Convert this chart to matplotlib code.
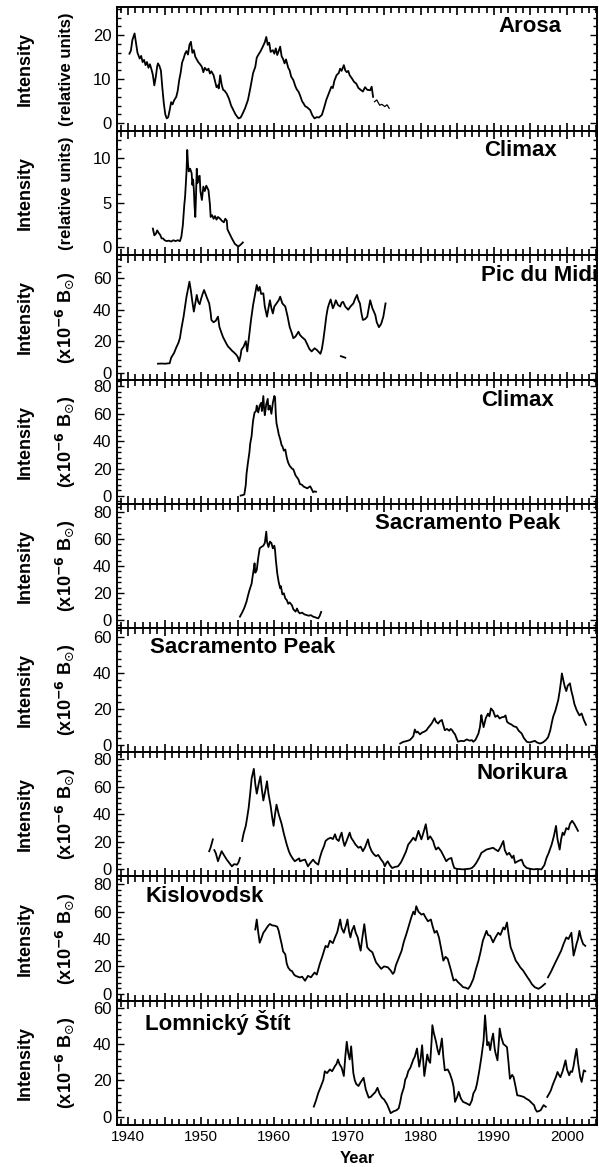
import numpy as np
import matplotlib.pyplot as plt
from matplotlib.ticker import MultipleLocator, AutoMinorLocator, FuncFormatter

plt.rcParams['font.family'] = ['Liberation Sans', 'DejaVu Sans']
plt.rcParams['mathtext.fontset'] = 'dejavusans'

# ---- data: (year, intensity) ----
arosa = [(1940.2, 15.8), (1940.4, 16.5), (1940.6, 18.9), (1940.9, 20.4), (1941.1, 18.2), (1941.3, 16.0),
         (1941.6, 14.7), (1941.8, 15.3), (1942.0, 13.9), (1942.2, 14.4), (1942.4, 13.2), (1942.6, 13.9),
         (1942.8, 12.6), (1943.0, 13.4), (1943.2, 12.3), (1943.4, 11.0), (1943.6, 8.6), (1943.8, 10.5),
         (1944.0, 13.0), (1944.1, 13.6), (1944.3, 13.0), (1944.5, 12.0), (1944.7, 8.0), (1944.9, 4.5),
         (1945.1, 2.0), (1945.3, 1.1), (1945.5, 1.4), (1945.7, 3.0), (1945.9, 4.8), (1946.1, 4.3),
         (1946.3, 5.2), (1946.6, 6.0), (1946.8, 7.4), (1947.0, 9.8), (1947.2, 11.5), (1947.4, 13.8),
         (1947.6, 14.7), (1947.8, 15.8), (1948.0, 16.4), (1948.2, 15.6), (1948.4, 17.8), (1948.6, 18.5),
         (1948.8, 16.0), (1949.0, 16.6), (1949.2, 15.1), (1949.4, 14.5), (1949.6, 13.9), (1949.9, 13.3),
         (1950.1, 12.8), (1950.3, 11.6), (1950.5, 12.6), (1950.8, 12.0), (1951.0, 12.4), (1951.2, 11.3),
         (1951.4, 11.8), (1951.7, 10.9), (1951.9, 9.6), (1952.1, 8.2), (1952.3, 8.6), (1952.4, 7.9),
         (1952.6, 10.9), (1952.8, 8.8), (1953.0, 7.6), (1953.2, 7.4), (1953.5, 6.7), (1953.8, 5.6),
         (1954.1, 4.0), (1954.4, 3.0), (1954.7, 2.0), (1955.1, 1.1), (1955.4, 1.3), (1955.7, 2.3),
         (1956.0, 3.4), (1956.4, 5.3), (1956.7, 7.8), (1957.1, 11.4), (1957.4, 12.8), (1957.6, 14.9),
         (1957.8, 15.5), (1958.1, 16.3), (1958.4, 17.3), (1958.7, 18.4), (1958.9, 19.6), (1959.1, 17.8),
         (1959.3, 18.3), (1959.5, 16.2), (1959.8, 16.6), (1960.0, 15.8), (1960.2, 17.0), (1960.4, 15.5),
         (1960.6, 16.4), (1960.8, 17.4), (1961.0, 15.2), (1961.2, 14.6), (1961.4, 13.6), (1961.6, 14.5),
         (1961.9, 12.6), (1962.1, 12.0), (1962.3, 10.6), (1962.6, 9.8), (1962.9, 8.3), (1963.1, 7.6),
         (1963.3, 7.2), (1963.5, 6.4), (1963.8, 5.0), (1964.0, 4.5), (1964.2, 3.9), (1964.5, 3.6),
         (1964.9, 3.0), (1965.2, 1.8), (1965.5, 1.1), (1965.8, 1.4), (1966.1, 1.3), (1966.5, 1.9),
         (1966.8, 3.5), (1967.1, 5.3), (1967.4, 6.6), (1967.8, 8.3), (1968.0, 8.0), (1968.2, 9.6),
         (1968.5, 10.9), (1968.8, 11.4), (1969.0, 12.4), (1969.2, 11.9), (1969.5, 13.2), (1969.7, 12.0),
         (1969.9, 11.6), (1970.1, 11.9), (1970.3, 10.9), (1970.6, 10.2), (1970.9, 9.4), (1971.2, 9.0),
         (1971.5, 8.0), (1971.8, 7.6), (1972.1, 7.2), (1972.4, 8.2), (1972.7, 7.6), (1973.1, 7.5),
         (1973.3, 8.3), (1973.5, 6.0)]
arosa_tail = [(1973.7, 4.9), (1974.0, 5.3), (1974.4, 4.1), (1974.7, 4.3), (1975.1, 3.8), (1975.4, 4.2),
              (1975.7, 3.4)]

climax_rel = [(1943.4, 2.1), (1943.6, 1.35), (1943.8, 1.5), (1944.0, 1.9), (1944.2, 1.6), (1944.4, 1.4),
              (1944.6, 1.0), (1944.8, 1.0), (1945.0, 0.8), (1945.3, 0.7), (1945.6, 0.75), (1945.9, 0.65),
              (1946.2, 0.8), (1946.5, 0.7), (1946.8, 0.8), (1947.1, 0.7), (1947.3, 1.2), (1947.5, 2.5),
              (1947.7, 4.8), (1947.8, 5.6), (1947.9, 7.0), (1948.0, 8.5), (1948.1, 10.9), (1948.2, 9.4),
              (1948.3, 8.5), (1948.5, 8.8), (1948.7, 8.3), (1948.8, 7.0), (1948.9, 7.6), (1949.0, 6.5),
              (1949.1, 4.6), (1949.2, 3.4), (1949.3, 5.8), (1949.4, 8.8), (1949.5, 7.2), (1949.6, 7.9),
              (1949.8, 8.0), (1949.9, 6.3), (1950.1, 5.3), (1950.3, 6.8), (1950.5, 6.3), (1950.7, 6.9),
              (1951.0, 6.4), (1951.2, 4.8), (1951.3, 3.4), (1951.5, 3.6), (1951.7, 3.2), (1951.9, 3.5),
              (1952.1, 3.1), (1952.3, 3.4), (1952.6, 3.2), (1952.8, 3.0), (1953.1, 2.8), (1953.3, 3.2),
              (1953.5, 3.0), (1953.6, 2.0), (1953.9, 1.5), (1954.2, 1.0), (1954.6, 0.4), (1954.9, 0.2),
              (1955.1, 0.1), (1955.4, 0.3), (1955.7, 0.55)]

pic_du_midi = [(1944.1, 5.7), (1944.6, 5.8), (1945.1, 5.7), (1945.7, 6.0), (1945.9, 9.5), (1946.1, 11.0),
               (1946.3, 12.5), (1946.6, 16.0), (1946.9, 19.0), (1947.1, 22.0), (1947.3, 28.0), (1947.6, 35.6),
               (1947.8, 42.0), (1948.0, 48.3), (1948.2, 53.0), (1948.4, 57.8), (1948.6, 52.0), (1948.8, 45.0),
               (1949.0, 38.8), (1949.2, 44.0), (1949.4, 49.4), (1949.6, 45.0), (1949.8, 43.5), (1950.0, 47.0),
               (1950.2, 50.0), (1950.4, 52.5), (1950.6, 50.0), (1950.8, 47.5), (1951.1, 44.0), (1951.3, 38.0),
               (1951.4, 33.5), (1951.7, 32.0), (1952.0, 33.0), (1952.3, 35.6), (1952.5, 29.0), (1952.8, 25.0),
               (1953.0, 22.5), (1953.3, 19.8), (1953.5, 18.0), (1953.7, 16.5), (1953.9, 15.6), (1954.2, 14.0),
               (1954.5, 12.8), (1954.8, 11.4), (1955.0, 10.0), (1955.2, 7.2), (1955.4, 11.0), (1955.5, 14.5),
               (1955.8, 16.5), (1956.1, 20.0), (1956.3, 13.5), (1956.6, 25.0), (1956.8, 33.0), (1957.1, 43.0),
               (1957.3, 48.0), (1957.6, 55.7), (1957.8, 52.0), (1958.0, 54.5), (1958.2, 50.0), (1958.5, 50.4),
               (1958.7, 42.0), (1959.0, 35.6), (1959.2, 41.0), (1959.4, 46.0), (1959.6, 41.0), (1959.8, 37.6),
               (1960.0, 42.0), (1960.3, 44.0), (1960.6, 46.0), (1960.8, 48.3), (1961.1, 44.0), (1961.5, 42.0),
               (1961.8, 36.0), (1962.1, 29.0), (1962.4, 25.0), (1962.6, 21.9), (1962.9, 23.0), (1963.3, 26.0),
               (1963.5, 24.0), (1963.8, 22.5), (1964.2, 20.9), (1964.5, 18.0), (1964.8, 15.0), (1965.1, 13.5),
               (1965.5, 15.5), (1965.8, 14.5), (1966.1, 13.0), (1966.3, 12.0), (1966.5, 15.0), (1966.7, 20.9),
               (1966.9, 28.0), (1967.1, 35.6), (1967.3, 41.0), (1967.5, 44.0), (1967.7, 46.5), (1968.0, 40.9),
               (1968.2, 43.0), (1968.4, 46.0), (1968.7, 43.0), (1969.0, 42.0), (1969.2, 44.5), (1969.4, 45.0),
               (1969.7, 42.0), (1970.1, 40.0), (1970.4, 42.0), (1970.8, 44.0), (1971.0, 46.5), (1971.3, 49.4),
               (1971.5, 46.0), (1971.7, 44.0), (1971.9, 38.0), (1972.1, 33.5), (1972.4, 34.0), (1972.7, 35.6),
               (1973.1, 46.0), (1973.4, 41.0), (1973.8, 36.7), (1974.0, 32.0), (1974.3, 28.9), (1974.6, 31.0),
               (1974.9, 35.6), (1975.2, 44.0)]
pic_du_midi_stray = [(1969.1, 10.5), (1969.7, 9.5)]

climax_abs = [(1955.4, 0.2), (1955.7, 0.6), (1955.9, 1.0), (1956.1, 8.0), (1956.2, 16.0), (1956.4, 24.5),
              (1956.6, 32.0), (1956.7, 38.0), (1956.9, 43.9), (1957.0, 50.0), (1957.1, 55.0), (1957.3, 60.9),
              (1957.5, 62.0), (1957.6, 66.0), (1957.8, 61.0), (1958.0, 66.0), (1958.2, 68.0), (1958.3, 62.0),
              (1958.5, 73.0), (1958.6, 64.0), (1958.7, 59.0), (1958.9, 67.0), (1959.1, 70.9), (1959.2, 63.0),
              (1959.4, 66.0), (1959.6, 60.0), (1959.8, 68.0), (1960.0, 73.0), (1960.1, 72.0), (1960.2, 60.0),
              (1960.3, 53.0), (1960.5, 48.0), (1960.6, 45.0), (1960.8, 41.5), (1961.0, 37.0), (1961.1, 36.4),
              (1961.3, 33.0), (1961.5, 33.9), (1961.7, 28.0), (1961.9, 24.2), (1962.1, 22.0), (1962.4, 20.0),
              (1962.6, 19.4), (1962.9, 15.0), (1963.1, 13.5), (1963.3, 12.0), (1963.5, 8.7), (1963.8, 8.0),
              (1964.0, 6.8), (1964.2, 6.3), (1964.5, 5.5), (1964.9, 7.0), (1965.1, 5.0), (1965.3, 2.7),
              (1965.5, 3.3), (1965.7, 3.0)]

sac_peak_1 = [(1955.3, 2.5), (1955.6, 5.5), (1955.9, 9.0), (1956.2, 13.6), (1956.4, 18.0), (1956.6, 22.0),
              (1956.9, 27.0), (1957.0, 31.0), (1957.2, 38.0), (1957.3, 42.0), (1957.4, 35.0), (1957.6, 37.0),
              (1957.8, 46.0), (1958.0, 53.0), (1958.2, 54.0), (1958.5, 55.0), (1958.7, 57.0), (1958.9, 65.4),
              (1959.0, 58.0), (1959.2, 54.0), (1959.4, 58.0), (1959.6, 57.0), (1959.8, 53.0), (1960.0, 55.0),
              (1960.1, 51.8), (1960.2, 45.0), (1960.4, 34.6), (1960.6, 28.0), (1960.8, 23.5), (1960.9, 25.0),
              (1961.1, 19.0), (1961.3, 19.8), (1961.5, 16.0), (1961.7, 14.8), (1961.9, 12.0), (1962.1, 13.0),
              (1962.4, 11.0), (1962.6, 8.0), (1962.9, 6.2), (1963.1, 8.5), (1963.3, 6.0), (1963.5, 4.9),
              (1963.8, 5.5), (1964.1, 4.2), (1964.4, 3.7), (1964.7, 3.2), (1965.0, 3.6), (1965.3, 2.5),
              (1965.6, 2.0), (1966.0, 1.2), (1966.2, 3.0), (1966.4, 6.0)]

sac_peak_2 = [(1977.2, 0.9), (1977.6, 1.8), (1978.0, 2.2), (1978.5, 2.8), (1978.8, 4.0), (1979.0, 5.0),
              (1979.2, 8.7), (1979.4, 7.0), (1979.6, 7.5), (1979.9, 6.0), (1980.2, 7.0), (1980.5, 7.5),
              (1980.8, 8.3), (1981.0, 9.5), (1981.2, 10.5), (1981.5, 12.0), (1981.7, 13.5), (1981.9, 15.0),
              (1982.1, 13.0), (1982.4, 12.0), (1982.6, 13.2), (1982.9, 14.0), (1983.1, 11.0), (1983.3, 8.3),
              (1983.6, 9.0), (1983.9, 8.0), (1984.1, 9.0), (1984.3, 8.3), (1984.5, 7.0), (1984.7, 6.0),
              (1984.9, 3.8), (1985.1, 1.9), (1985.5, 2.4), (1985.9, 2.2), (1986.3, 3.2), (1986.7, 2.5),
              (1987.0, 2.8), (1987.2, 1.9), (1987.5, 3.0), (1987.9, 6.5), (1988.1, 10.0), (1988.3, 16.7),
              (1988.4, 14.0), (1988.6, 10.0), (1988.9, 15.0), (1989.2, 17.5), (1989.4, 16.0), (1989.6, 20.4),
              (1989.9, 19.0), (1990.2, 15.7), (1990.5, 16.5), (1990.8, 14.8), (1991.1, 15.5), (1991.4, 15.7),
              (1991.6, 16.5), (1991.8, 13.0), (1992.1, 12.0), (1992.4, 11.5), (1992.7, 10.5), (1993.1, 10.0),
              (1993.4, 8.0), (1993.8, 6.5), (1994.1, 4.0), (1994.5, 1.9), (1994.9, 1.5), (1995.3, 2.0),
              (1995.6, 2.4), (1995.9, 1.5), (1996.3, 0.9), (1996.7, 1.5), (1997.1, 2.8), (1997.4, 4.3),
              (1997.7, 8.0), (1997.9, 12.0), (1998.1, 15.7), (1998.4, 19.0), (1998.6, 22.0), (1998.8, 25.0),
              (1999.0, 30.0), (1999.2, 36.0), (1999.3, 39.8), (1999.5, 36.0), (1999.7, 32.4), (1999.9, 30.0),
              (2000.1, 33.0), (2000.4, 34.3), (2000.6, 30.0), (2000.8, 26.9), (2001.0, 23.0), (2001.3, 19.6),
              (2001.5, 18.0), (2001.7, 16.5), (2002.0, 17.6), (2002.3, 14.0), (2002.6, 11.3)]

norikura_a = [(1951.1, 13.2), (1951.3, 16.0), (1951.6, 21.8)]
norikura_b = [(1951.8, 14.0), (1952.0, 11.8), (1952.3, 5.9), (1952.5, 9.0), (1952.8, 13.2), (1953.1, 10.5),
              (1953.5, 7.1), (1953.8, 5.0), (1954.2, 2.2), (1954.5, 3.8), (1954.9, 3.4), (1955.1, 5.0),
              (1955.3, 8.3)]
norikura = [(1955.6, 20.6), (1955.8, 26.0), (1956.1, 31.6), (1956.3, 38.0), (1956.5, 45.0), (1956.7, 55.0),
            (1956.9, 66.0), (1957.2, 73.0), (1957.4, 62.0), (1957.6, 55.0), (1957.9, 63.0), (1958.1, 67.6),
            (1958.3, 58.0), (1958.5, 50.0), (1958.8, 58.0), (1959.0, 64.0), (1959.2, 55.0), (1959.5, 46.0),
            (1959.7, 38.0), (1959.9, 31.6), (1960.1, 40.0), (1960.3, 47.0), (1960.6, 40.0), (1961.0, 33.0),
            (1961.3, 26.0), (1961.7, 18.0), (1962.0, 13.0), (1962.2, 10.6), (1962.5, 8.0), (1962.8, 5.9),
            (1963.1, 7.0), (1963.4, 8.0), (1963.5, 5.9), (1963.8, 6.5), (1964.2, 7.1), (1964.6, 2.2),
            (1964.9, 4.5), (1965.3, 7.1), (1965.6, 5.0), (1966.0, 3.4), (1966.2, 8.0), (1966.5, 13.2),
            (1966.8, 17.0), (1967.0, 20.6), (1967.3, 22.0), (1967.7, 23.0), (1968.0, 22.0), (1968.3, 25.5),
            (1968.5, 22.0), (1968.8, 20.6), (1969.0, 24.0), (1969.2, 26.7), (1969.4, 21.0), (1969.6, 17.0),
            (1969.9, 21.0), (1970.3, 26.7), (1970.5, 23.0), (1970.8, 20.6), (1971.1, 18.0), (1971.5, 15.7),
            (1971.8, 16.5), (1972.1, 13.2), (1972.4, 16.0), (1972.8, 21.8), (1973.0, 17.0), (1973.3, 13.2),
            (1973.6, 11.0), (1973.9, 9.6), (1974.2, 10.5), (1974.6, 7.1), (1974.9, 5.0), (1975.1, 2.2),
            (1975.3, 4.5), (1975.5, 5.9), (1975.8, 3.0), (1976.1, 1.0), (1976.5, 1.8), (1976.9, 2.2),
            (1977.3, 5.0), (1977.6, 8.3), (1978.0, 13.0), (1978.3, 18.0), (1978.6, 20.0), (1979.0, 23.0),
            (1979.3, 21.0), (1979.7, 28.0), (1979.9, 25.0), (1980.1, 21.8), (1980.4, 27.0), (1980.7, 32.8),
            (1980.9, 26.0), (1981.0, 21.8), (1981.3, 24.0), (1981.7, 20.6), (1981.9, 17.0), (1982.1, 14.4),
            (1982.4, 16.0), (1982.8, 13.2), (1983.1, 10.0), (1983.5, 5.9), (1983.8, 7.5), (1984.2, 8.3),
            (1984.4, 4.0), (1984.6, 1.0), (1985.0, 0.3), (1985.4, 0.2), (1985.8, 0.0), (1986.3, 0.3),
            (1986.7, 0.5), (1987.0, 1.0), (1987.3, 2.5), (1987.6, 4.7), (1988.0, 8.5), (1988.3, 12.0),
            (1988.6, 13.0), (1989.0, 14.4), (1989.4, 15.0), (1989.9, 15.7), (1990.2, 14.5), (1990.6, 13.2),
            (1990.9, 16.0), (1991.3, 20.6), (1991.5, 14.0), (1991.8, 10.6), (1992.1, 12.0), (1992.5, 8.3),
            (1992.7, 10.0), (1992.9, 4.7), (1993.3, 6.0), (1993.8, 7.1), (1994.1, 3.0), (1994.5, 1.0),
            (1994.9, 0.5), (1995.4, 0.0), (1995.9, 0.3), (1996.5, 0.0), (1996.9, 3.0), (1997.2, 8.3),
            (1997.5, 12.0), (1997.9, 18.0), (1998.2, 24.0), (1998.5, 31.6), (1998.7, 22.0), (1999.0, 14.4),
            (1999.2, 22.0), (1999.4, 26.7), (1999.6, 25.0), (1999.9, 30.0), (2000.2, 29.0), (2000.4, 33.0),
            (2000.7, 35.3), (2001.0, 33.0), (2001.2, 31.0), (2001.5, 28.0)]

kislovodsk = [(1957.4, 47.0), (1957.6, 54.3), (1957.8, 45.0), (1958.0, 37.3), (1958.2, 40.0), (1958.5, 44.6),
              (1958.7, 46.0), (1959.0, 48.5), (1959.2, 50.0), (1959.4, 51.0), (1959.7, 50.0), (1960.1, 49.7),
              (1960.4, 49.0), (1960.6, 46.0), (1960.8, 41.0), (1961.0, 36.4), (1961.2, 31.0), (1961.5, 28.8),
              (1961.7, 22.0), (1961.9, 19.1), (1962.2, 17.0), (1962.4, 16.7), (1962.7, 14.0), (1962.9, 13.1),
              (1963.2, 12.5), (1963.5, 11.9), (1963.8, 12.5), (1964.2, 9.5), (1964.6, 13.1), (1965.0, 12.0),
              (1965.5, 15.5), (1965.8, 14.0), (1966.2, 21.6), (1966.6, 28.0), (1967.0, 35.0), (1967.3, 34.0),
              (1967.6, 38.8), (1968.0, 37.0), (1968.3, 41.2), (1968.6, 45.0), (1969.0, 54.3), (1969.2, 48.0),
              (1969.5, 44.6), (1969.8, 50.0), (1970.0, 54.3), (1970.2, 46.0), (1970.4, 41.2), (1970.6, 46.0),
              (1970.9, 49.7), (1971.1, 45.0), (1971.4, 41.2), (1971.6, 36.0), (1971.8, 31.5), (1972.0, 40.0),
              (1972.3, 50.9), (1972.5, 42.0), (1972.7, 34.0), (1973.0, 32.0), (1973.4, 30.3), (1973.7, 26.0),
              (1973.9, 23.0), (1974.2, 21.0), (1974.6, 18.2), (1975.0, 20.0), (1975.5, 19.4), (1975.9, 17.0),
              (1976.2, 14.5), (1976.4, 16.0), (1976.6, 20.6), (1977.0, 26.0), (1977.4, 31.5), (1977.7, 38.0),
              (1978.1, 44.6), (1978.4, 50.0), (1978.7, 55.5), (1979.0, 60.0), (1979.2, 58.0), (1979.4, 64.0),
              (1979.7, 60.0), (1980.1, 57.9), (1980.4, 58.5), (1980.7, 55.5), (1981.0, 53.0), (1981.4, 54.3),
              (1981.6, 50.0), (1981.9, 44.6), (1982.2, 46.0), (1982.5, 41.2), (1982.8, 33.0), (1983.1, 24.2),
              (1983.4, 27.0), (1983.7, 25.5), (1984.1, 18.0), (1984.5, 9.7), (1984.8, 10.5), (1985.1, 8.5),
              (1985.5, 6.5), (1985.8, 4.8), (1986.1, 4.5), (1986.5, 3.6), (1986.8, 6.0), (1987.2, 10.9),
              (1987.5, 17.0), (1987.9, 24.2), (1988.2, 31.0), (1988.5, 38.8), (1988.8, 43.0), (1989.0, 46.0),
              (1989.2, 43.0), (1989.5, 42.4), (1989.7, 40.0), (1989.9, 37.6), (1990.2, 41.0), (1990.6, 44.6),
              (1990.9, 43.0), (1991.3, 48.5), (1991.5, 47.0), (1991.8, 52.1), (1992.0, 44.0), (1992.3, 34.0),
              (1992.6, 30.0), (1993.0, 24.2), (1993.3, 22.0), (1993.6, 19.4), (1994.0, 17.0), (1994.3, 14.5),
              (1994.6, 12.0), (1994.9, 9.7), (1995.2, 7.0), (1995.6, 4.8), (1996.1, 3.6), (1996.5, 5.0),
              (1997.0, 7.3)]
kislovodsk_tail = [(1997.4, 12.0), (1997.8, 16.0), (1998.3, 21.6), (1998.7, 26.0), (1999.2, 31.5), (1999.5, 36.0),
                   (1999.9, 41.2), (2000.2, 40.0), (2000.6, 44.6), (2000.9, 27.9), (2001.1, 32.0), (2001.3, 36.4),
                   (2001.5, 40.0), (2001.7, 46.0), (2001.9, 41.0), (2002.2, 36.4), (2002.5, 35.0)]

lomnicky = [(1965.4, 5.6), (1965.7, 9.0), (1966.0, 13.0), (1966.3, 16.0), (1966.7, 20.2), (1966.9, 25.0),
            (1967.2, 24.0), (1967.6, 26.0), (1967.9, 25.0), (1968.3, 27.9), (1968.5, 29.0), (1968.7, 31.5),
            (1968.9, 29.0), (1969.2, 27.0), (1969.5, 22.4), (1969.7, 33.0), (1969.9, 41.2), (1970.1, 35.0),
            (1970.3, 31.5), (1970.5, 38.7), (1970.8, 24.0), (1971.0, 20.0), (1971.2, 18.0), (1971.5, 16.9),
            (1971.8, 19.0), (1972.2, 21.4), (1972.5, 15.0), (1972.9, 10.5), (1973.2, 11.0), (1973.5, 12.3),
            (1973.8, 13.5), (1974.1, 15.9), (1974.4, 12.5), (1974.7, 10.5), (1975.0, 9.5), (1975.4, 6.9),
            (1975.7, 4.0), (1975.9, 2.0), (1976.3, 3.0), (1976.7, 3.6), (1977.0, 4.7), (1977.2, 8.0),
            (1977.4, 12.3), (1977.7, 16.0), (1977.9, 20.5), (1978.1, 22.0), (1978.3, 25.0), (1978.6, 27.0),
            (1979.0, 31.5), (1979.2, 33.0), (1979.5, 37.5), (1979.8, 27.5), (1980.0, 32.0), (1980.2, 39.3),
            (1980.5, 22.4), (1980.7, 28.0), (1980.9, 34.2), (1981.1, 31.0), (1981.3, 29.6), (1981.5, 42.0),
            (1981.6, 50.3), (1981.8, 46.0), (1982.1, 41.2), (1982.3, 37.0), (1982.5, 34.2), (1982.7, 38.0),
            (1982.9, 43.0), (1983.1, 33.0), (1983.3, 25.5), (1983.7, 26.0), (1984.0, 23.6), (1984.3, 20.0),
            (1984.5, 16.4), (1984.7, 8.2), (1985.0, 11.0), (1985.2, 13.7), (1985.5, 10.0), (1985.8, 8.2),
            (1986.2, 7.5), (1986.7, 6.4), (1987.0, 9.0), (1987.2, 12.8), (1987.5, 15.0), (1987.7, 18.2),
            (1988.0, 25.0), (1988.3, 32.8), (1988.6, 41.9), (1988.8, 55.7), (1989.0, 45.0), (1989.1, 39.3),
            (1989.3, 41.0), (1989.5, 36.6), (1989.7, 42.0), (1989.9, 45.7), (1990.1, 38.0), (1990.2, 35.5),
            (1990.5, 31.0), (1990.7, 42.0), (1990.8, 48.5), (1991.0, 44.0), (1991.3, 40.0), (1991.6, 39.0),
            (1991.8, 38.2), (1992.0, 30.0), (1992.2, 20.9), (1992.5, 23.0), (1992.7, 21.8), (1993.0, 16.0),
            (1993.2, 11.8), (1993.6, 11.5), (1994.1, 10.9), (1994.4, 10.0), (1994.8, 9.1), (1995.2, 7.5),
            (1995.5, 6.4), (1995.7, 4.0), (1995.9, 2.8), (1996.2, 3.2), (1996.4, 3.6), (1996.6, 5.0),
            (1996.8, 6.4), (1997.1, 5.5)]
lomnicky_tail = [(1997.3, 10.9), (1997.6, 13.0), (1997.8, 14.6), (1998.0, 17.0), (1998.2, 19.1), (1998.5, 22.0),
                 (1998.7, 24.6), (1998.9, 23.0), (1999.1, 21.8), (1999.4, 25.0), (1999.6, 28.0), (1999.8, 31.0),
                 (2000.0, 26.0), (2000.3, 22.8), (2000.5, 25.0), (2000.7, 24.6), (2000.9, 28.0), (2001.1, 33.0),
                 (2001.3, 37.3), (2001.5, 30.0), (2001.8, 21.8), (2002.0, 19.1), (2002.3, 25.5), (2002.5, 25.0)]

stations = ['Arosa', 'Climax', 'Pic du Midi', 'Climax', 'Sacramento Peak',
            'Sacramento Peak', 'Norikura', 'Kislovodsk', 'Lomnický Štít']
series = [[arosa, arosa_tail], [climax_rel], [pic_du_midi, pic_du_midi_stray], [climax_abs],
          [sac_peak_1], [sac_peak_2], [norikura_a, norikura_b, norikura], [kislovodsk, kislovodsk_tail],
          [lomnicky, lomnicky_tail]]
ylims = [(-1.8, 26.4), (-0.9, 13.0), (-4.4, 74.5), (-5.8, 85.0), (-5.9, 86.0),
         (-3.9, 65.0), (-5.1, 85.1), (-5.0, 85.8), (-4.4, 63.8)]
ysteps = [10, 5, 20, 20, 20, 20, 20, 20, 20]
units = ['(relative units)', '(relative units)'] + [r'(x10$^{\mathbf{-6}}$ B$_{\odot}$)'] * 7
# station label position inside each panel (axes fraction)
label_pos = [(0.86, 0.84), (0.84, 0.843), (0.88, 0.84), (0.834, 0.835), (0.73, 0.843),
             (0.262, 0.847), (0.845, 0.83), (0.183, 0.835), (0.21, 0.82)]

W, H = 599, 1167
fig = plt.figure(figsize=(W / 100, H / 100), dpi=100)
left, right = 117, 597
top0, ph = 7, 124.2


def decade_label(v, pos):
    return '%d' % v if round(v) % 10 == 0 else ''


for i in range(9):
    y_top = top0 + i * ph
    ax = fig.add_axes([left / W, 1 - (y_top + ph) / H, (right - left) / W, ph / H])
    for k, seg in enumerate(series[i]):
        xs, ys = zip(*seg)
        lw = 0.9 if (i == 0 and k == 1) else 1.3
        ax.plot(xs, ys, color='black', lw=lw)
    ax.set_xlim(1938.5, 2004.1)
    ax.set_ylim(*ylims[i])
    ax.xaxis.set_major_locator(MultipleLocator(5))
    ax.xaxis.set_major_formatter(FuncFormatter(decade_label))
    ax.xaxis.set_minor_locator(MultipleLocator(1))
    ax.yaxis.set_major_locator(MultipleLocator(ysteps[i]))
    ax.yaxis.set_minor_locator(AutoMinorLocator(5))
    ax.tick_params(axis='x', which='both', direction='in', top=True, bottom=True, width=1.2)
    ax.tick_params(axis='x', which='major', length=6)
    ax.tick_params(axis='x', which='minor', length=4)
    ax.tick_params(axis='y', which='both', direction='in', left=True, right=True, width=1.0)
    ax.tick_params(axis='y', which='major', length=5, labelsize=12, pad=4)
    ax.tick_params(axis='y', which='minor', length=3)
    for sp in ax.spines.values():
        sp.set_linewidth(1.4)
    if i < 8:
        ax.tick_params(axis='x', labelbottom=False)
    else:
        ax.tick_params(axis='x', labelsize=11, pad=4)
        ax.set_xlabel('Year', fontsize=12, fontweight='bold', labelpad=5)
    lx, ly = label_pos[i]
    ax.text(lx, ly, stations[i], transform=ax.transAxes, ha='center', va='center',
            fontsize=16, fontweight='bold')
    yc = 1 - (y_top + ph / 2) / H
    fig.text(25 / W, yc, 'Intensity', rotation=90, ha='center', va='center',
             fontsize=13, fontweight='bold')
    fig.text(66 / W, yc, units[i], rotation=90, ha='center', va='center',
             fontsize=12 if i < 2 else 13, fontweight='bold')

fig.savefig('out.png', dpi=100)
